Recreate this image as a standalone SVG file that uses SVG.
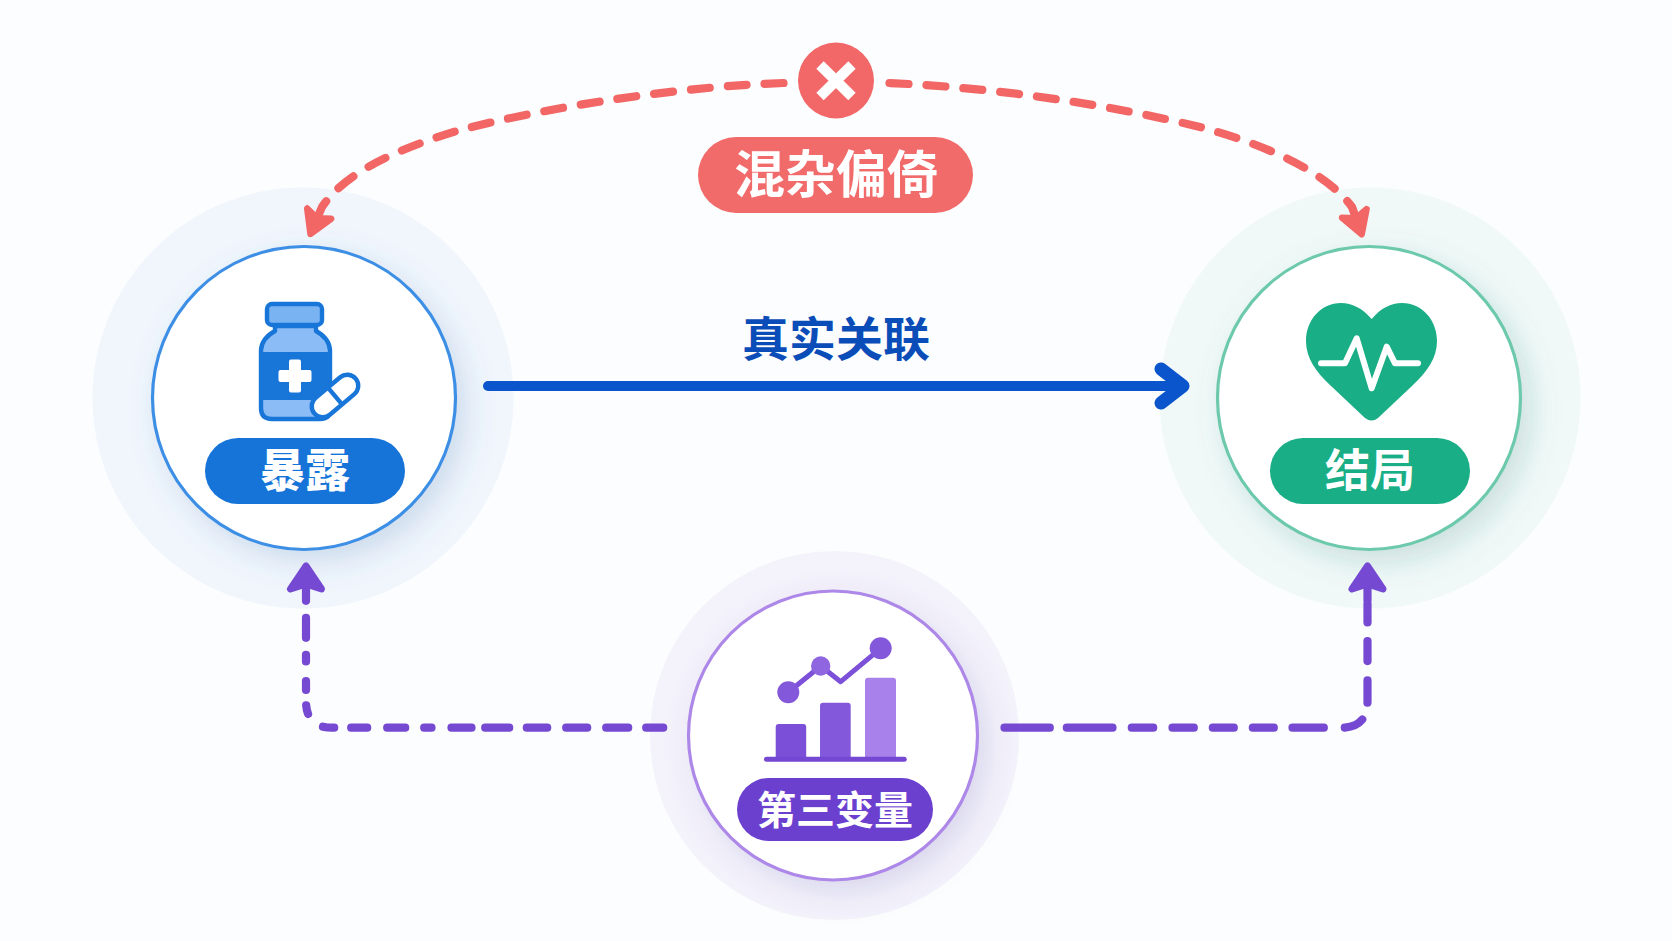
<svg xmlns="http://www.w3.org/2000/svg" width="1672" height="941" viewBox="0 0 1672 941">
<style>
text{font-family:"Noto Sans CJK SC","Noto Sans",sans-serif;font-weight:700;text-anchor:middle}
.lbl{fill:#fff}
.heavy{font-weight:900}
.ring{fill:#fff;stroke-width:3.2}
.dash{fill:none;stroke-width:8.200;stroke-linecap:round;stroke-linejoin:round}
.red{stroke:#f26666}
.pur{stroke:#7549d2}
.bs{stroke:#1976d9;stroke-width:4.400;stroke-linejoin:round}
</style>
<defs>
<filter id="sb" x="-30%" y="-30%" width="160%" height="160%"><feDropShadow dx="9" dy="11" stdDeviation="15" flood-color="#3a6ea8" flood-opacity=".2"/></filter>
<filter id="sg" x="-30%" y="-30%" width="160%" height="160%"><feDropShadow dx="9" dy="11" stdDeviation="15" flood-color="#2f7a70" flood-opacity=".2"/></filter>
<filter id="sp" x="-30%" y="-30%" width="160%" height="160%"><feDropShadow dx="9" dy="11" stdDeviation="15" flood-color="#5a4aa8" flood-opacity=".17"/></filter>
<marker id="ar" markerUnits="userSpaceOnUse" markerWidth="60" markerHeight="60" refX="30" refY="30" orient="auto" viewBox="0 0 60 60"><path d="M44,30L22,17L27,30L22,43Z" fill="#f26666" stroke="#f26666" stroke-width="6.500" stroke-linejoin="round"/></marker>
<marker id="ap" markerUnits="userSpaceOnUse" markerWidth="60" markerHeight="60" refX="30" refY="30" orient="auto" viewBox="0 0 60 60"><path d="M46,30L23,14.500L28,30L23,45.500Z" fill="#7549d2" stroke="#7549d2" stroke-width="7" stroke-linejoin="round"/></marker>
<marker id="ab" markerUnits="userSpaceOnUse" markerWidth="60" markerHeight="60" refX="30" refY="30" orient="auto" viewBox="0 0 60 60"><path d="M7,13L29,30L7,47" fill="none" stroke="#0a55cc" stroke-width="13" stroke-linecap="round" stroke-linejoin="round"/></marker>
</defs>
<rect width="1672" height="941" fill="#fbfdfe"/>

<g id="node-exposure">
<circle cx="303" cy="398" r="210.500" fill="#f1f6fd"/>
<circle class="ring" cx="304" cy="398" r="151.500" stroke="#3d8fe6" filter="url(#sb)"/>
<g id="icon-bottle">
<path class="bs" d="M275,326V331Q262,338 261,350V408Q261,419 272,419H320Q330,419 330,410V350Q329,338 316,331V326Z" fill="#8cbcf5"/>
<rect x="261" y="352" width="69" height="48" fill="#1976d9"/>
<rect class="bs" x="267" y="304" width="55" height="21" rx="5" fill="#7ab3f2"/>
<rect x="278.500" y="370" width="33" height="12" rx="2" fill="#fff"/>
<rect x="289" y="359.500" width="12" height="33" rx="2" fill="#fff"/>
<g transform="rotate(-40 335 396)">
<rect class="bs" x="308" y="385" width="54" height="22" rx="11" fill="#fff"/>
<path class="bs" d="M335,385V407" fill="none"/>
</g>
</g>
<rect x="205" y="438" width="200" height="66" rx="33" fill="#1673d8"/>
<text class="lbl heavy" x="305" y="487" font-size="45">暴露</text>
</g>

<g id="node-outcome">
<circle cx="1370" cy="398" r="210.500" fill="#f1f9f8"/>
<circle class="ring" cx="1369" cy="398" r="151.500" stroke="#6cc9ab" filter="url(#sg)"/>
<path id="icon-heart" d="M1371.700,319C1362,308 1352,303 1341,303C1321,303 1306,320 1306,341C1306,358 1316,372 1330,385L1365,418Q1371.700,423 1378,418L1413,385C1427,372 1437,358 1437,341C1437,320 1422,303 1402,303C1391,303 1381,308 1371.700,319Z" fill="#19ae85"/>
<path d="M1321,363.300H1345L1356.700,338.300L1371.700,388.300L1386.700,346.700L1395,363.300H1418" fill="none" stroke="#fff" stroke-width="6" stroke-linecap="round" stroke-linejoin="round"/>
<rect x="1270" y="438" width="200" height="66" rx="33" fill="#19ae85"/>
<text class="lbl" x="1370" y="487" font-size="45">结局</text>
</g>

<g id="node-confounder">
<circle cx="834.500" cy="735.500" r="184.500" fill="#f4f3fb"/>
<circle class="ring" cx="833" cy="735.500" r="144.500" stroke="#ad88e8" filter="url(#sp)"/>
<g id="icon-chart">
<rect x="775.700" y="724" width="30.500" height="36" rx="3" fill="#7b4fd8"/>
<rect x="820" y="702.700" width="30.700" height="57" rx="3" fill="#8458db"/>
<rect x="865" y="677.700" width="31" height="82" rx="3" fill="#a882ea"/>
<rect x="764" y="756.700" width="142.700" height="5" rx="2.500" fill="#7448d2"/>
<path d="M788.300,692.300L820.700,666L840.700,681.700L880.700,648.300" fill="none" stroke="#7c50d8" stroke-width="5" stroke-linejoin="round"/>
<circle cx="788.300" cy="692.300" r="11" fill="#8458db"/>
<circle cx="820.700" cy="666" r="9.700" fill="#8f65e0"/>
<circle cx="880.700" cy="648.300" r="11" fill="#8458db"/>
</g>
<rect x="737" y="778" width="196" height="63" rx="31.500" fill="#6c40cf"/>
<text class="lbl" x="835" y="824" font-size="39">第三变量</text>
</g>

<g id="node-bias">
<circle cx="836" cy="80.500" r="38" fill="#f26868"/>
<path d="M820,65L852,96.500M852,65L820,96.500" fill="none" stroke="#fff" stroke-width="10.500"/>
<rect x="698" y="137" width="275" height="76" rx="38" fill="#f26b6b"/>
<text class="lbl" x="836" y="193" font-size="51">混杂偏倚</text>
</g>

<g id="node-relation">
<text x="836" y="356" font-size="47" fill="#0b4db8">真实关联</text>
</g>

<g id="connectors">
<path class="dash red" stroke-dasharray="19 18" marker-end="url(#ar)" d="M783.500,83C690,86 560,104 460,130C400,148 345,172 322,207L316,221"/>
<path class="dash red" stroke-dasharray="19 18" marker-end="url(#ar)" d="M889.500,83C1000,88 1110,105 1200,127C1260,143 1325,170 1352,207L1357,221"/>
<path class="dash pur" stroke-dasharray="17 18 22 19 21 19 20.400 17.600 24 13.700 20 20 7.300 19 18 20 16 17 11 20.700 9 15 9 19.500 6.700 17 20" marker-end="url(#ap)" d="M663.200,727.700H332Q306,727.700 306,701V582"/>
<path class="dash pur" stroke-dasharray="45.300 17 45.700 19.300 21.400 19.300 21.300 19 21 19 21 18.700 31.300 20.700 20 18 22 19.300 20 18.700 18.700 3 20" marker-end="url(#ap)" d="M1004.500,727.700H1341Q1367.500,727.700 1367.500,701V582"/>
<path d="M488,386H1184" fill="none" stroke="#0a55cc" stroke-width="10" stroke-linecap="round" marker-end="url(#ab)"/>
</g>
</svg>
